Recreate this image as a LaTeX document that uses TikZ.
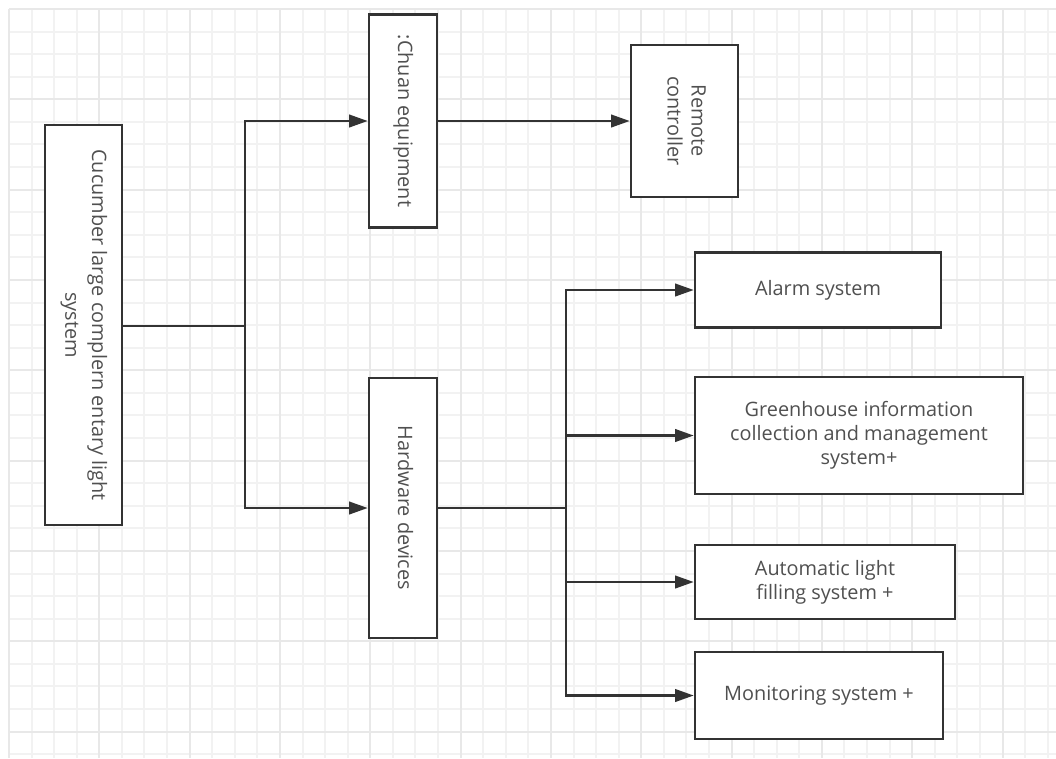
\documentclass[tikz,border=0pt]{standalone}
\usepackage{fontspec}
\usepackage{graphicx}
\setmainfont{Open Sans}
\usetikzlibrary{arrows.meta}
\definecolor{gridminor}{HTML}{F2F2F2}
\definecolor{gridmajor}{HTML}{E8E8E8}
\definecolor{linec}{HTML}{333333}
\definecolor{textc}{HTML}{505050}
\newdimen\pxu \pxu=0.75pt
\newcommand\vtext[1]{\rotatebox[origin=c]{-90}{\begin{tabular}{@{}c@{}}#1\end{tabular}}}
\begin{document}
\begin{tikzpicture}[x=0.75pt,y=-0.75pt,
  box/.style={draw=linec, line width=2pt, fill=white, inner sep=0pt, text=textc,
    font=\fontsize{14.9}{18}\selectfont, align=center},
  conn/.style={draw=linec, line width=1.6pt},
  arr/.style={conn, -{Triangle[length=14pt,width=9.5pt]}},
  gminor/.style={draw=gridminor, line width=1.5pt},
  gmajor/.style={draw=gridmajor, line width=1.5pt}]
\useasboundingbox (0,0) rectangle (1056,758);
\fill[white] (0,0) rectangle (1056,758);
% grid
\foreach \i in {0,...,46} {\draw[gminor] ({round(9+22.58*\i)},9) -- ({round(9+22.58*\i)},758);}
\foreach \j in {0,...,33} {\draw[gminor] (9,{round(9+22.58*\j)}) -- (1056,{round(9+22.58*\j)});}
\foreach \i in {0,4,...,44} {\draw[gmajor] ({round(9+22.58*\i)},9) -- ({round(9+22.58*\i)},758);}
\foreach \j in {0,4,...,32} {\draw[gmajor] (9,{round(9+22.58*\j)}) -- (1056,{round(9+22.58*\j)});}
% nodes
\node[box, minimum width=77\pxu, minimum height=400\pxu] (main) at (83.5,325)
  {\vtext{Cucumber large complern entary light\\[2pt]system}};
\node[box, minimum width=68\pxu, minimum height=213\pxu] (chuan) at (403,121)
  {\vtext{:Chuan equipment}};
\node[box, minimum width=107\pxu, minimum height=152\pxu] (remote) at (684.5,121)
  {\vtext{Remote\\controller}};
\node[box, minimum width=68\pxu, minimum height=260\pxu] (hw) at (403,508)
  {\vtext{Hardware devices}};
\node[box, minimum width=246\pxu, minimum height=75\pxu] (alarm) at (818,290)
  {Alarm system};
\node[box, minimum width=328\pxu, minimum height=117\pxu] (green) at (859,435.5)
  {Greenhouse information\\collection and management\\system+};
\node[box, minimum width=260\pxu, minimum height=74\pxu] (auto) at (825,582)
  {Automatic light\\filling system +};
\node[box, minimum width=248\pxu, minimum height=87\pxu] (mon) at (819,695.5)
  {Monitoring system +};
% connectors
\coordinate (j1) at (245,326);
\coordinate (j2) at (566,508);
\draw[conn] (main.east |- j1) -- (j1);
\draw[arr] (j1) |- (chuan.west);
\draw[arr] (j1) |- (hw.west);
\draw[arr] (chuan.east) -- (remote.west);
\draw[conn] (hw.east |- j2) -- (j2);
\draw[arr] (j2) |- (alarm.west);
\draw[arr] (j2) |- (green.west);
\draw[arr] (j2) |- (auto.west);
\draw[arr] (j2) |- (mon.west);
\end{tikzpicture}
\end{document}
